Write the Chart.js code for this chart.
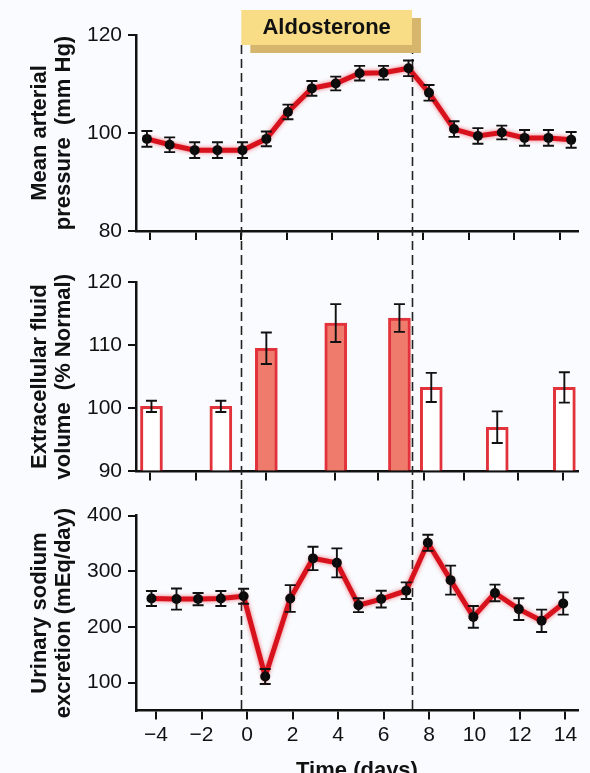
<!DOCTYPE html>
<html>
<head>
<meta charset="utf-8">
<script src="https://cdn.jsdelivr.net/npm/chart.js@4/dist/chart.umd.min.js"></script>
<style>
  html, body { margin: 0; padding: 0; background: #f9fbfe; overflow: hidden; }
  body { width: 590px; height: 773px; position: relative; }
  .panel { position: absolute; left: 0; width: 590px; }
</style>
</head>
<body>
<div class="panel" style="top:0;height:256px"><canvas id="graficoPresion"></canvas></div>
<div class="panel" style="top:256px;height:234px"><canvas id="graficoVolumen"></canvas></div>
<div class="panel" style="top:490px;height:305px"><canvas id="graficoSodio"></canvas></div>
<script>
// Datos (días)
const aldoStart = -0.25;
const aldoEnd = 7.25;

const pressureDays = [-4.4, -3.4, -2.3, -1.3, -0.2, 0.85, 1.8, 2.85, 3.9, 4.95, 6.0, 7.1, 8.0, 9.1, 10.15, 11.2, 12.2, 13.25, 14.25];
const pressure = [98.8, 97.6, 96.5, 96.5, 96.5, 98.8, 104.3, 109.1, 110.1, 112.2, 112.3, 113.2, 108.2, 100.8, 99.4, 100.1, 99.0, 99.0, 98.6];
const pressureErr = [1.6, 1.5, 1.6, 1.6, 1.6, 1.5, 1.5, 1.5, 1.4, 1.5, 1.4, 1.6, 1.6, 1.6, 1.6, 1.4, 1.6, 1.6, 1.6];

const volumeDays = [-4.2, -1.15, 0.85, 3.9, 6.7, 8.1, 11.0, 13.95];
const volume = [100.3, 100.3, 109.5, 113.5, 114.3, 103.3, 97.0, 103.3];
const volumeErr = [0.9, 0.9, 2.5, 3.0, 2.2, 2.3, 2.5, 2.4];

const sodiumDays = [-4.2, -3.1, -2.15, -1.15, -0.15, 0.8, 1.9, 2.9, 3.95, 4.9, 5.9, 7.0, 7.95, 8.95, 9.95, 10.9, 11.95, 12.95, 13.9];
const sodium = [251, 250, 250, 251, 255, 111, 251, 323, 315, 239, 250, 265, 351, 284, 218, 261, 232, 211, 242];
const sodiumErr = [13.5, 19, 11, 13.5, 13.5, 13.5, 24, 21, 26, 12.5, 15, 15, 14.5, 26, 19.5, 15, 19.5, 20, 20];

const dayTicks = [-4, -2, 0, 2, 4, 6, 8, 10, 12, 14];
const pressureTickDays = [-4.25, -2.25, -0.25, 1.75, 3.75, 5.75, 7.75, 9.75, 11.75, 13.75];
const volumeTickDays = [-4.25, -2.25, 0.85, 3.85, 5.75, 7.8, 9.55, 11.9, 13.9];

const pressureTicks = [80, 100, 120];
const volumeTicks = [90, 100, 110, 120];
const sodiumTicks = [100, 200, 300, 400];

const dayMin = -4.88;
const dayMax = 14.55;

const FONT = "'Liberation Sans', Arial, sans-serif";
const INK = '#111111';
const RED = '#d8121c';

Chart.defaults.font.family = FONT;
Chart.defaults.color = INK;

// líneas de error
const errorBars = {
    id: 'errorBars',
    afterDatasetsDraw(chart, args, opts) {
        const { ctx, scales: { x, y } } = chart;
        ctx.save();
        ctx.strokeStyle = '#111';
        ctx.lineWidth = 1.9;
        opts.days.forEach((d, i) => {
            const px = x.getPixelForValue(d);
            const top = y.getPixelForValue(opts.values[i] + opts.errors[i]);
            const bot = y.getPixelForValue(opts.values[i] - opts.errors[i]);
            ctx.beginPath();
            ctx.moveTo(px, top); ctx.lineTo(px, bot);
            ctx.moveTo(px - 5.5, top); ctx.lineTo(px + 5.5, top);
            ctx.moveTo(px - 5.5, bot); ctx.lineTo(px + 5.5, bot);
            ctx.stroke();
        });
        ctx.restore();
    }
};

// periodo de aldosterona: líneas discontinuas y recuadro
const aldoMarks = {
    id: 'aldoMarks',
    beforeDatasetsDraw(chart, args, opts) {
        const { ctx, scales: { x } } = chart;
        const bottom = opts.toAxis ? chart.chartArea.bottom : chart.height;
        ctx.save();
        ctx.strokeStyle = '#222';
        ctx.lineWidth = 1.6;
        ctx.setLineDash([9, 5]);
        [aldoStart, aldoEnd].forEach(d => {
            const px = Math.round(x.getPixelForValue(d)) + 0.5;
            ctx.beginPath();
            ctx.moveTo(px, opts.from);
            ctx.lineTo(px, bottom);
            ctx.stroke();
        });
        ctx.restore();
    },
    afterDraw(chart, args, opts) {
        if (!opts.box) return;
        const { ctx, scales: { x } } = chart;
        const xl = x.getPixelForValue(aldoStart);
        const xr = x.getPixelForValue(aldoEnd);
        ctx.save();
        ctx.fillStyle = '#d6b66c';
        ctx.fillRect(xl + 9, 18, xr - xl, 35);
        ctx.fillStyle = '#f9dc86';
        ctx.fillRect(xl, 10, xr - xl, 35);
        ctx.fillStyle = INK;
        ctx.font = 'bold 22px ' + FONT;
        ctx.textAlign = 'center';
        ctx.textBaseline = 'middle';
        ctx.fillText('Aldosterone', (xl + xr) / 2, 28);
        ctx.restore();
    }
};

// halo rojo de la línea
const glow = {
    id: 'glow',
    beforeDatasetDraw(chart, args) {
        if (args.index !== 0 || chart.config.type !== 'line') return;
        chart.ctx.save();
        chart.ctx.shadowColor = 'rgba(235, 70, 80, 0.75)';
        chart.ctx.shadowBlur = 4;
    },
    afterDatasetDraw(chart, args) {
        if (args.index !== 0 || chart.config.type !== 'line') return;
        chart.ctx.restore();
    }
};

function xScale(ticks, height, labels) {
    return {
        type: 'linear', min: dayMin, max: dayMax, offset: false,
        afterBuildTicks: s => { s.ticks = ticks.map(v => ({ value: v })); },
        afterFit: s => { s.height = height; },
        border: { color: '#111', width: 2.5 },
        grid: { drawOnChartArea: false, drawTicks: true, tickLength: 9, color: '#111', lineWidth: 2, offset: false },
        ticks: {
            display: labels, color: INK, padding: 3, maxRotation: 0, autoSkip: false,
            font: { size: 21 },
            callback: v => (v < 0 ? '\u2212' + Math.abs(v) : String(v))
        },
        title: {
            display: labels, text: 'Time (days)', color: INK,
            font: { size: 22, weight: 'bold' }, padding: { top: 0, bottom: 11 }
        }
    };
}

function yScale(min, max, ticks, title) {
    return {
        min: min, max: max,
        afterBuildTicks: s => { s.ticks = ticks.map(v => ({ value: v })); },
        afterFit: s => { s.width = 136; },
        border: { color: '#111', width: 2.5 },
        grid: { drawOnChartArea: false, drawTicks: true, tickLength: 8, color: '#111', lineWidth: 2 },
        ticks: { color: INK, padding: 6, font: { size: 21 } },
        title: {
            display: true, text: title, color: INK,
            font: { size: 22, weight: 'bold', lineHeight: '24px' },
            padding: { top: 28, bottom: 0 }
        }
    };
}

function lineDatasets(days, values) {
    const pts = days.map((d, i) => ({ x: d, y: values[i] }));
    return [
        { data: pts, order: 2, borderColor: RED, borderWidth: 5, pointRadius: 0, tension: 0 },
        { data: pts, order: 1, showLine: false, pointRadius: 5, pointBackgroundColor: '#0a0a0a', pointBorderWidth: 0 }
    ];
}

const common = {
    responsive: true,
    maintainAspectRatio: false,
    animation: false,
    events: []
};

// Presión arterial media
new Chart(document.getElementById('graficoPresion').getContext('2d'), {
    type: 'line',
    data: { datasets: lineDatasets(pressureDays, pressure) },
    options: Object.assign({}, common, {
        layout: { padding: { top: 35, right: 12, left: 0, bottom: 0 } },
        scales: {
            x: xScale(pressureTickDays, 25, false),
            y: yScale(80, 120, pressureTicks, ['Mean arterial', 'pressure  (mm Hg)'])
        },
        plugins: {
            legend: { display: false }, tooltip: { enabled: false },
            errorBars: { days: pressureDays, values: pressure, errors: pressureErr },
            aldoMarks: { from: 45, toAxis: false, box: true }
        }
    }),
    plugins: [glow, aldoMarks, errorBars]
});

// Volumen de líquido extracelular
new Chart(document.getElementById('graficoVolumen').getContext('2d'), {
    type: 'bar',
    data: {
        datasets: [{
            data: volumeDays.map((d, i) => ({ x: d, y: volume[i] })),
            base: 90,
            barThickness: 22,
            borderWidth: 3,
            borderColor: '#e2323b',
            backgroundColor: volumeDays.map(d => (d > aldoStart && d < aldoEnd ? '#ee7b6c' : '#ffffff'))
        }]
    },
    options: Object.assign({}, common, {
        layout: { padding: { top: 26, right: 12, left: 0, bottom: 0 } },
        scales: {
            x: xScale(volumeTickDays, 15.5, false),
            y: yScale(90, 120, volumeTicks, ['Extracellular fluid', 'volume  (% Normal)'])
        },
        plugins: {
            legend: { display: false }, tooltip: { enabled: false },
            errorBars: { days: volumeDays, values: volume, errors: volumeErr },
            aldoMarks: { from: 0, toAxis: false, box: false }
        }
    }),
    plugins: [aldoMarks, errorBars]
});

// Excreción urinaria de sodio
new Chart(document.getElementById('graficoSodio').getContext('2d'), {
    type: 'line',
    data: { datasets: lineDatasets(sodiumDays, sodium) },
    options: Object.assign({}, common, {
        layout: { padding: { top: 25.5, right: 12, left: 0, bottom: 0 } },
        scales: {
            x: xScale(dayTicks, 84.5, true),
            y: yScale(50, 400, sodiumTicks, ['Urinary sodium', 'excretion (mEq/day)'])
        },
        plugins: {
            legend: { display: false }, tooltip: { enabled: false },
            errorBars: { days: sodiumDays, values: sodium, errors: sodiumErr },
            aldoMarks: { from: 0, toAxis: true, box: false }
        }
    }),
    plugins: [glow, aldoMarks, errorBars]
});
</script>
</body>
</html>
